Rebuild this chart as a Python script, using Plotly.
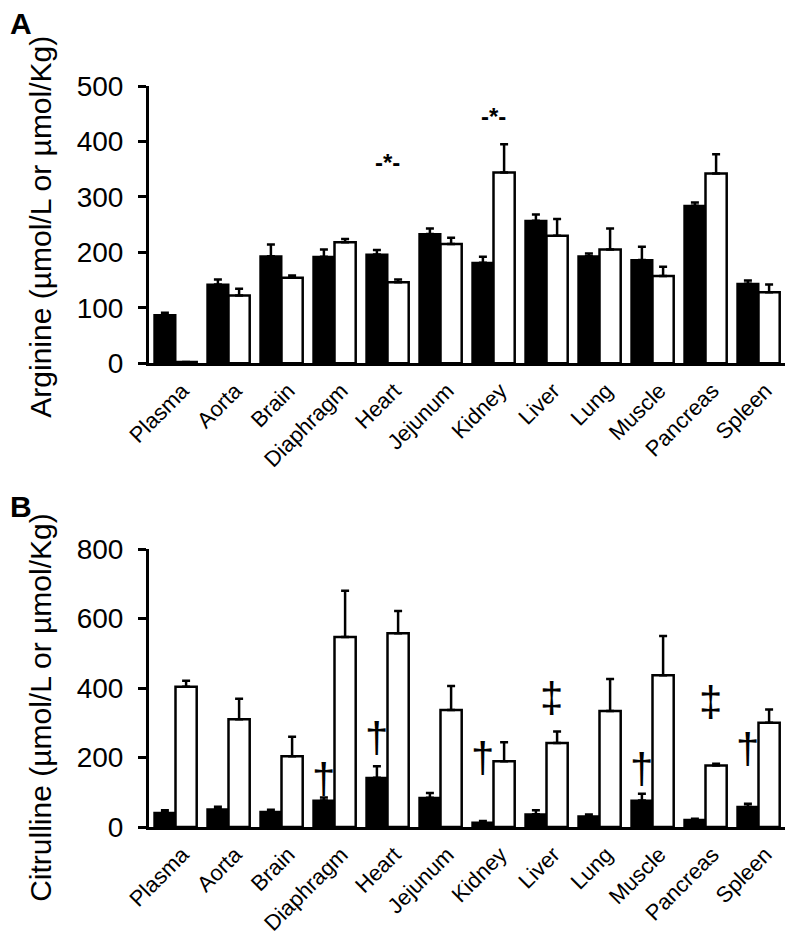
import plotly.graph_objects as go
from plotly.subplots import make_subplots

# tissues
cats = ["Plasma", "Aorta", "Brain", "Diaphragm", "Heart", "Jejunum",
        "Kidney", "Liver", "Lung", "Muscle", "Pancreas", "Spleen"]

# A - arginine (filled / open bars, upper error)
arg_black = [87, 142, 193, 192, 196, 233, 181, 257, 193, 186, 284, 143]
arg_black_err = [4, 9, 21, 13, 8, 10, 11, 11, 5, 24, 6, 6]
arg_open = [2, 122, 154, 218, 146, 215, 344, 230, 205, 157, 342, 128]
arg_open_err = [0, 12, 4, 6, 5, 11, 51, 30, 38, 17, 35, 14]

# B - citrulline
cit_black = [41, 51, 44, 76, 142, 84, 13, 37, 31, 76, 21, 58]
cit_black_err = [7, 7, 6, 9, 33, 14, 4, 11, 5, 20, 3, 9]
cit_open = [404, 310, 204, 547, 558, 337, 189, 242, 334, 437, 177, 300]
cit_open_err = [17, 59, 56, 133, 64, 69, 55, 33, 92, 113, 5, 38]

# significance marks
star_cats = ["Heart", "Kidney"]
star_y = [362, 445]
dag_cats = ["Diaphragm", "Heart", "Kidney", "Muscle", "Spleen"]
dag_y = [141, 259, 201, 167, 227]
ddag_cats = ["Liver", "Pancreas"]
ddag_y = [374, 360]

FONT = "Liberation Sans, Arial, sans-serif"

fig = make_subplots(rows=2, cols=1, vertical_spacing=0.0)


def err(a):
    return dict(type="data", symmetric=False, array=a, arrayminus=[0] * len(a),
                color="black", thickness=2.5, width=4)


for row, blk, blk_e, opn, opn_e in [(1, arg_black, arg_black_err, arg_open, arg_open_err),
                                     (2, cit_black, cit_black_err, cit_open, cit_open_err)]:
    fig.add_trace(go.Bar(x=cats, y=blk, error_y=err(blk_e),
                         marker=dict(color="black", line=dict(color="black", width=2)),
                         showlegend=False), row=row, col=1)
    fig.add_trace(go.Bar(x=cats, y=opn, error_y=err(opn_e),
                         marker=dict(color="white", line=dict(color="black", width=2.5)),
                         showlegend=False), row=row, col=1)

# page body keeps its 8px margin -> figure is 16px smaller so nothing overflows
fig.update_layout(
    width=777, height=928,
    margin=dict(l=141, r=0, t=78, b=109),
    plot_bgcolor="white", paper_bgcolor="white",
    barmode="group", bargap=0.2, bargroupgap=0,
    font=dict(family=FONT, color="black"),
)
fig.update_layout(
    yaxis=dict(domain=[0.626, 1.0]),
    yaxis2=dict(domain=[0.0, 0.375]),
)

fig.update_xaxes(showline=True, linecolor="black", linewidth=3, ticks="",
                 tickangle=-45, tickfont=dict(size=22, family=FONT),
                 ticklabelstandoff=3, ticklabelshift=7, showgrid=False,
                 automargin=False)
fig.update_yaxes(showline=True, linecolor="black", linewidth=3, ticks="outside",
                 ticklen=8, tickwidth=2.5, tickcolor="black",
                 tickfont=dict(size=28, family=FONT), ticklabelstandoff=9,
                 showgrid=False, zeroline=False, automargin=False)
fig.update_yaxes(range=[0, 500], tickvals=[0, 100, 200, 300, 400, 500], row=1, col=1)
fig.update_yaxes(range=[0, 800], tickvals=[0, 200, 400, 600, 800], row=2, col=1)

ann = []
for c, y in zip(star_cats, star_y):
    ann.append(dict(x=c, y=y, xref="x", yref="y", text="<b>-*-</b>", showarrow=False,
                    font=dict(size=24, family=FONT), yanchor="middle", xanchor="center"))
for c, y in zip(dag_cats, dag_y):
    ann.append(dict(x=c, y=y, xref="x2", yref="y2", text="†", showarrow=False,
                    xshift=-11, font=dict(size=42, family=FONT),
                    yanchor="middle", xanchor="center"))
for c, y in zip(ddag_cats, ddag_y):
    ann.append(dict(x=c, y=y, xref="x2", yref="y2", text="‡", showarrow=False,
                    xshift=5, font=dict(size=42, family=FONT),
                    yanchor="middle", xanchor="center"))

# panel letters and y titles
ann.append(dict(x=-0.2217, y=1.085, xref="paper", yref="paper", text="<b>A</b>",
                showarrow=False, xanchor="left", yanchor="middle",
                font=dict(size=30, family=FONT)))
ann.append(dict(x=-0.2217, y=0.433, xref="paper", yref="paper", text="<b>B</b>",
                showarrow=False, xanchor="left", yanchor="middle",
                font=dict(size=30, family=FONT)))
ann.append(dict(x=-0.170, y=0.810, xref="paper", yref="paper", textangle=-90,
                text="Arginine (µmol/L or µmol/Kg)", showarrow=False,
                xanchor="center", yanchor="middle", font=dict(size=30, family=FONT)))
ann.append(dict(x=-0.170, y=0.162, xref="paper", yref="paper", textangle=-90,
                text="Citrulline (µmol/L or µmol/Kg)", showarrow=False,
                xanchor="center", yanchor="middle", font=dict(size=30, family=FONT)))
fig.update_layout(annotations=ann)

fig.write_html("out.html")
